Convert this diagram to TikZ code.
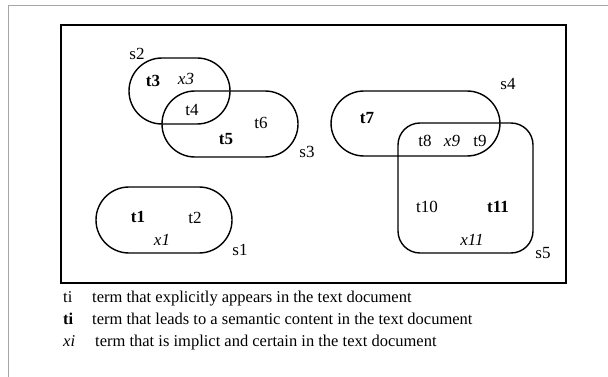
\documentclass[tikz,border=0pt]{standalone}
\usepackage{fontspec}
\setmainfont{Liberation Serif}
\begin{document}
\begin{tikzpicture}[x=1pt,y=-1pt,
    lbl/.style={font=\fontsize{17}{19}\selectfont, inner sep=0pt},
    keytext/.style={font=\fontsize{16.5}{19}\selectfont, inner sep=0pt, anchor=base west},
    tset/.style={line width=1.4pt, rounded corners=33pt}]
	\useasboundingbox (0,0) rectangle (608,377);
	\draw[gray!70] (8,377) -- (8,5) -- (608,5); %sheet edge
	\draw[line width=1.8pt] (61,25) rectangle (566,283); %frame
	% the sets
	\draw[tset] (96,187) rectangle (232,253);
	\draw[tset] (129,58) rectangle (230,124);
	\draw[tset] (162,91) rectangle (298,157);
	\draw[tset] (331,91) rectangle (500,156);
	\draw[tset, rounded corners=22pt] (398,123) rectangle (533,253);
	% set names
	\node[lbl] (s1) at (240,250) {s1};
	\node[lbl] (s2) at (137,54) {s2};
	\node[lbl] (s3) at (307,152) {s3};
	\node[lbl] (s4) at (508,84) {s4};
	\node[lbl] (s5) at (543,253) {s5};
	% terms
	\node[lbl] (t1) at (138,217) {\textbf{t1}};
	\node[lbl] (t2) at (195,218) {t2};
	\node[lbl] (x1) at (162,240) {\textit{x1}};
	\node[lbl] (t3) at (153,81) {\textbf{t3}};
	\node[lbl] (x3) at (186,79) {\textit{x3}};
	\node[lbl] (t4) at (192,110) {t4};
	\node[lbl] (t5) at (226,139) {\textbf{t5}};
	\node[lbl] (t6) at (261,123) {t6};
	\node[lbl] (t7) at (367,118) {\textbf{t7}};
	\node[lbl] (t8) at (425,141) {t8};
	\node[lbl] (x9) at (452,141) {\textit{x9}};
	\node[lbl] (t9) at (480,141) {t9};
	\node[lbl] (t10) at (427,207) {t10};
	\node[lbl] (t11) at (498,207) {\textbf{t11}};
	\node[lbl] (x11) at (472,240) {\textit{x11}};
	% legend
	\node[keytext] (k1) at (63,302) {ti};
	\node[keytext] (k2) at (63,324) {\textbf{ti}};
	\node[keytext] (k3) at (63,346) {\textit{xi}};
	\node[keytext] (d1) at (92,302) {term that explicitly appears in the text document};
	\node[keytext] (d2) at (92,324) {term that leads to a semantic content in the text document};
	\node[keytext] (d3) at (95,346) {term that is implict and certain in the text document};
\end{tikzpicture}
\end{document}
